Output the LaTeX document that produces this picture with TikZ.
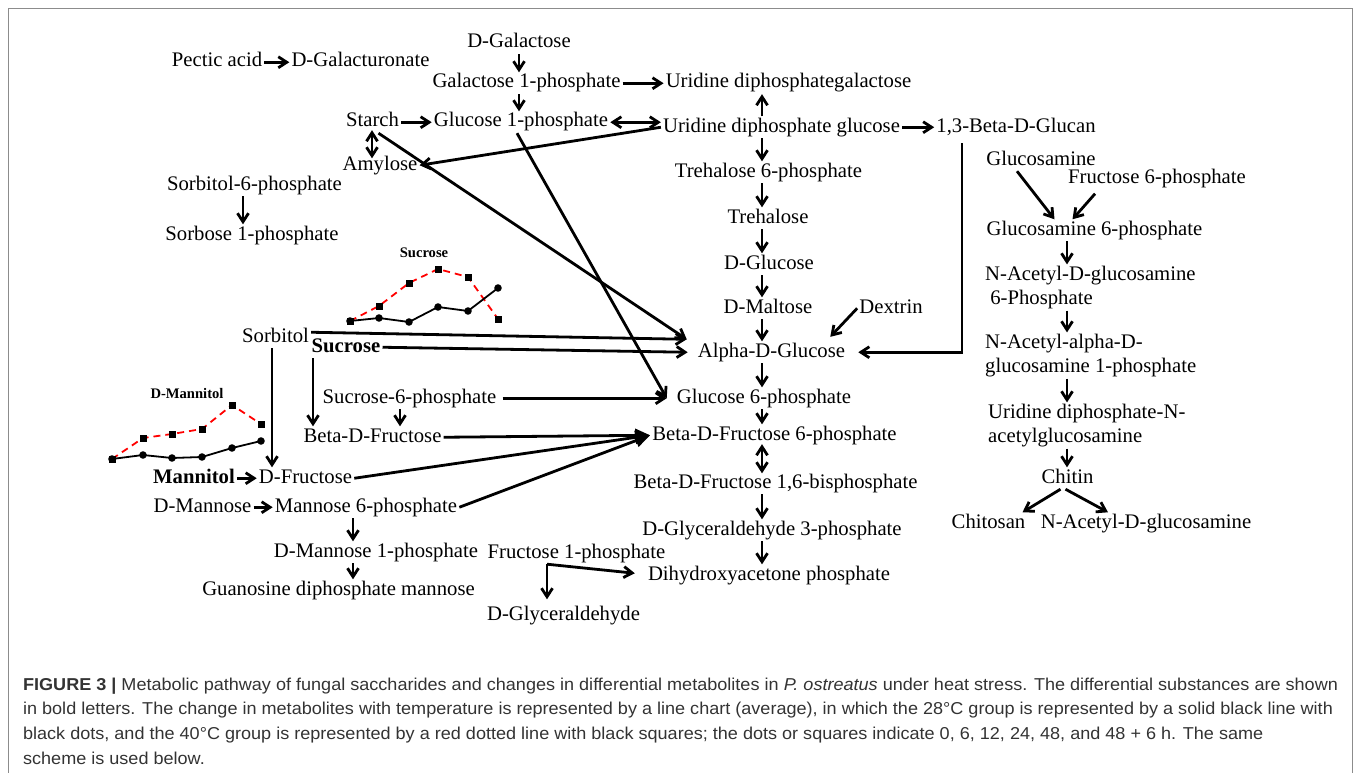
\documentclass[tikz,border=0pt]{standalone}
\usepackage{fontspec}
\setmainfont{Liberation Serif}
\newfontfamily\capfont{Liberation Sans}
\usetikzlibrary{arrows.meta, positioning, plotmarks}
\definecolor{framegray}{HTML}{8C8C8C}
\definecolor{capgray}{HTML}{333333}
\newcommand{\mainsz}{\fontsize{20.7}{24}\selectfont}
\newcommand{\chartsz}{\fontsize{14.6}{16}\selectfont\bfseries}

\begin{document}
\begin{tikzpicture}[
  x=1pt, y=-1pt,
  met/.style={font=\mainsz, inner xsep=2pt, inner ysep=1.5pt, text height=14pt, text depth=4.5pt, anchor=base},
  metml/.style={font=\mainsz, inner xsep=2pt, inner ysep=1.5pt, align=left, anchor=north west},
  arr/.style={line width=2.8pt, -{Straight Barb[length=8.5pt,width=11pt]}},
  dbl/.style={line width=2.8pt, {Straight Barb[length=8.5pt,width=11pt]}-{Straight Barb[length=8.5pt,width=11pt]}},
  farr/.style={line width=2.8pt, -{Triangle[length=15pt,width=13pt]}},
  ctitle/.style={font=\chartsz, inner sep=0pt, anchor=base},
  hot/.style={red, dash pattern=on 7pt off 5pt, line width=1.8pt},
  cool/.style={black, line width=1.8pt}
]
\useasboundingbox (0,0) rectangle (1357,773);
\draw[framegray, line width=0.8pt] (8.5,8.5) rectangle (1352.5,800);

% columns used by the vertical arrows
\coordinate (galcol) at (519,0);
\coordinate (maincol) at (762,0);
\coordinate (chitcol) at (1067,0);
\coordinate (glucol) at (962,0);
\coordinate (sorbcol) at (243,0);
\coordinate (starcol) at (372,0);
\coordinate (sorbitcol) at (272,0);
\coordinate (succol) at (313,0);
\coordinate (suc6col) at (400,0);
\coordinate (mancol) at (353,0);
\coordinate (frucol) at (547,0);

% galactose / starch branch
\node[met] (pectic) at (217,67) {Pectic acid};
\node[met] (galur) at (360.5,67) {D-Galacturonate};
\node[met] (dgalac) at (519,48) {D-Galactose};
\node[met] (gal1p) at (526.5,88) {Galactose 1-phosphate};
\node[met] (udpgal) at (788.5,88) {Uridine diphosphategalactose};
\node[met] (starch) at (372.5,127) {Starch};
\node[met] (glc1p) at (521,127) {Glucose 1-phosphate};
\node[met] (udpglc) at (781.5,132) {Uridine diphosphate glucose};
\node[met] (glucan) at (1016,132) {1,3-Beta-D-Glucan};
\node[met] (amylose) at (380,170) {Amylose};
\node[met] (sorb6p) at (254.5,190) {Sorbitol-6-phosphate};
\node[met] (sorb1p) at (252,240) {Sorbose 1-phosphate};

% main column
\node[met] (tre6p) at (768.5,177) {Trehalose 6-phosphate};
\node[met] (tre) at (768,223) {Trehalose};
\node[met] (dglc) at (769,269) {D-Glucose};
\node[met] (dmal) at (768,313) {D-Maltose};
\node[met] (dextrin) at (891,313) {Dextrin};
\node[met] (aglc) at (771.5,357) {Alpha-D-Glucose};
\node[met] (glc6p) at (764,403) {Glucose 6-phosphate};
\node[met] (bfru6p) at (774.5,440) {Beta-D-Fructose 6-phosphate};
\node[met] (bfrubp) at (775.5,488) {Beta-D-Fructose 1,6-bisphosphate};
\node[met] (gap) at (772,535) {D-Glyceraldehyde 3-phosphate};
\node[met] (dhap) at (769,580) {Dihydroxyacetone phosphate};

% sugars and polyols on the left
\node[met] (sorbitol) at (275.5,342) {Sorbitol};
\node[met] (sucrose) at (346,352) {\textbf{Sucrose}};
\node[met] (suc6p) at (409.5,403) {Sucrose-6-phosphate};
\node[met] (bfru) at (372.5,442) {Beta-D-Fructose};
\node[met] (mannitol) at (194,483) {\textbf{Mannitol}};
\node[met] (dfru) at (305.5,483) {D-Fructose};
\node[met] (dman) at (202.5,512) {D-Mannose};
\node[met] (man6p) at (366,512) {Mannose 6-phosphate};
\node[met] (man1p) at (376,557) {D-Mannose 1-phosphate};
\node[met] (gdpman) at (338.5,595) {Guanosine diphosphate mannose};
\node[met] (fru1p) at (576.5,558) {Fructose 1-phosphate};
\node[met] (dgla) at (563.5,620) {D-Glyceraldehyde};

% chitin branch
\node[met] (glcn) at (1041,165) {Glucosamine};
\node[met] (fru6p) at (1157,183) {Fructose 6-phosphate};
\node[met] (glcn6p) at (1094.5,235) {Glucosamine 6-phosphate};
\node[metml] (nacglc6p) at (983,264.4) {N-Acetyl-D-glucosamine\\\hspace*{0.25em}6-Phosphate};
\node[metml] (nacglc1p) at (983,332.4) {N-Acetyl-alpha-D-\\glucosamine 1-phosphate};
\node[metml] (udpnac) at (986,402.4) {Uridine diphosphate-N-\\acetylglucosamine};
\node[met] (chitin) at (1067.5,483) {Chitin};
\node[met] (chitosan) at (988.5,528) {Chitosan};
\node[met] (nacglc) at (1146,528) {N-Acetyl-D-glucosamine};

% arrows, top left
\draw[arr] (pectic) -- (galur);
\draw[arr] (dgalac.south -| galcol) -- (gal1p.north -| galcol);
\draw[arr] (gal1p) -- (udpgal);
\draw[arr] (gal1p.south -| galcol) -- (glc1p.north -| galcol);
\draw[arr] (starch) -- (glc1p);
\draw[dbl] (glc1p.east) -- (glc1p.east -| udpglc.west);
\draw[arr] (udpglc.north -| maincol) -- (udpgal.south -| maincol);
\draw[arr] (udpglc) -- (glucan);
\draw[arr] (udpglc.west) -- (amylose.east);
\draw[dbl, shorten <=-3pt, shorten >=-4pt] (starch.south -| starcol) -- (amylose.north -| starcol);
\draw[arr] (sorb6p.south -| sorbcol) -- (sorb1p.north -| sorbcol);

% arrows into Alpha-D-Glucose and Glucose 6-phosphate
\coordinate (aglcin) at ([xshift=-9pt,yshift=2pt]aglc.north west);
\draw[arr] ([xshift=6pt]starch.south) -- (aglcin);
\draw[arr] ([xshift=-4pt]glc1p.south) -- ([xshift=-8pt]glc6p.west);
\draw[arr] ([yshift=5pt]sorbitol.east) -- (aglcin);
\draw[arr] (sucrose.east) -- ([xshift=-8pt]aglc.west);
\draw[arr] (dextrin.west) -- ([xshift=-17pt,yshift=4.5pt]aglc.north east);
\draw[arr, shorten <=5pt] (glucan.south -| glucol) |- ([xshift=11pt]aglc.east);
\draw[arr, shorten <=4pt, shorten >=8pt] (suc6p) -- (glc6p);

% main column arrows
\draw[arr] (udpglc.south -| maincol) -- (tre6p.north -| maincol);
\draw[arr] (tre6p.south -| maincol) -- (tre.north -| maincol);
\draw[arr] (tre.south -| maincol) -- (dglc.north -| maincol);
\draw[arr] (dglc.south -| maincol) -- (dmal.north -| maincol);
\draw[arr] (dmal.south -| maincol) -- (aglc.north -| maincol);
\draw[arr] (aglc.south -| maincol) -- (glc6p.north -| maincol);
\draw[arr] (glc6p.south -| maincol) -- (bfru6p.north -| maincol);
\draw[dbl, shorten <=-2pt, shorten >=-1pt] (bfru6p.south -| maincol) -- (bfrubp.north -| maincol);
\draw[arr] (bfrubp.south -| maincol) -- (gap.north -| maincol);
\draw[arr] (gap.south -| maincol) -- (dhap.north -| maincol);

% fructose and mannose arrows
\draw[arr] (sorbitol.south -| sorbitcol) -- (dfru.north -| sorbitcol);
\draw[arr] (sucrose.south -| succol) -- (bfru.north -| succol);
\draw[arr] (suc6p.south -| suc6col) -- (bfru.north -| suc6col);
\draw[farr] (bfru.east) -- (bfru6p.west);
\draw[farr] (dfru.east) -- (bfru6p.west);
\draw[farr] (man6p.east) -- (bfru6p.west);
\draw[arr] (mannitol) -- (dfru);
\draw[arr] (dman) -- (man6p);
\draw[arr] (man6p.south -| mancol) -- (man1p.north -| mancol);
\draw[arr] (man1p.south -| mancol) -- (gdpman.north -| mancol);
\draw[arr, shorten >=5pt] (fru1p.south -| frucol) -- (dgla.north -| frucol);
\draw[arr] (fru1p.south -| frucol) -- ([xshift=-11pt,yshift=2pt]dhap.west);

% chitin arrows
\draw[arr] ([xshift=-24pt]glcn.south) -- ([xshift=-40pt]glcn6p.north);
\draw[arr, shorten <=6pt] ([xshift=-58pt]fru6p.south) -- ([xshift=-22pt]glcn6p.north);
\draw[arr] (glcn6p.south -| chitcol) -- (nacglc6p.north -| chitcol);
\draw[arr] (nacglc6p.south -| chitcol) -- (nacglc1p.north -| chitcol);
\draw[arr] (nacglc1p.south -| chitcol) -- (udpnac.north -| chitcol);
\draw[arr] (udpnac.south -| chitcol) -- (chitin.north -| chitcol);
\draw[arr] ([xshift=-7pt]chitin.south) -- ([xshift=34pt]chitosan.north);
\draw[arr] ([xshift=-2pt]chitin.south) -- ([xshift=-38pt]nacglc.north);

% line charts
\node[ctitle] (suctitle) at (424,257) {Sucrose};
\draw[hot] plot coordinates {(350,321) (379,306) (409,283) (438,269) (468,277) (498,319)};
\draw[cool] plot[mark=*, mark size=2.8pt] coordinates {(350,321) (379,318) (409,322) (438,307) (468,311) (498,288)};
\draw plot[only marks, mark=square*, mark size=2.7pt] coordinates {(350,321) (379,306) (409,283) (438,269) (468,277) (498,319)};

\node[ctitle] (mantitle) at (187,398) {D-Mannitol};
\draw[hot] plot coordinates {(112,459) (143,438) (172,434) (202,429) (232,405) (261,424)};
\draw[cool] plot[mark=*, mark size=2.8pt] coordinates {(112,459) (143,455) (172,458) (202,457) (232,448) (261,441)};
\draw plot[only marks, mark=square*, mark size=2.7pt] coordinates {(112,459) (143,438) (172,434) (202,429) (232,405) (261,424)};

% caption
\node[anchor=north west, align=left, inner sep=0pt, text=capgray, xscale=1.05, transform shape,
      font=\capfont\fontsize{17.2}{24.7}\selectfont] (caption) at (22.9,677.5)
  {\textbf{FIGURE 3 |} Metabolic pathway of fungal saccharides and changes in differential metabolites in \textit{P. ostreatus} under heat stress. The differential substances are shown\\
   in bold letters. The change in metabolites with temperature is represented by a line chart (average), in which the 28°C group is represented by a solid black line with\\
   black dots, and the 40°C group is represented by a red dotted line with black squares; the dots or squares indicate 0, 6, 12, 24, 48, and 48 + 6 h. The same\\
   scheme is used below.};
\end{tikzpicture}
\end{document}
